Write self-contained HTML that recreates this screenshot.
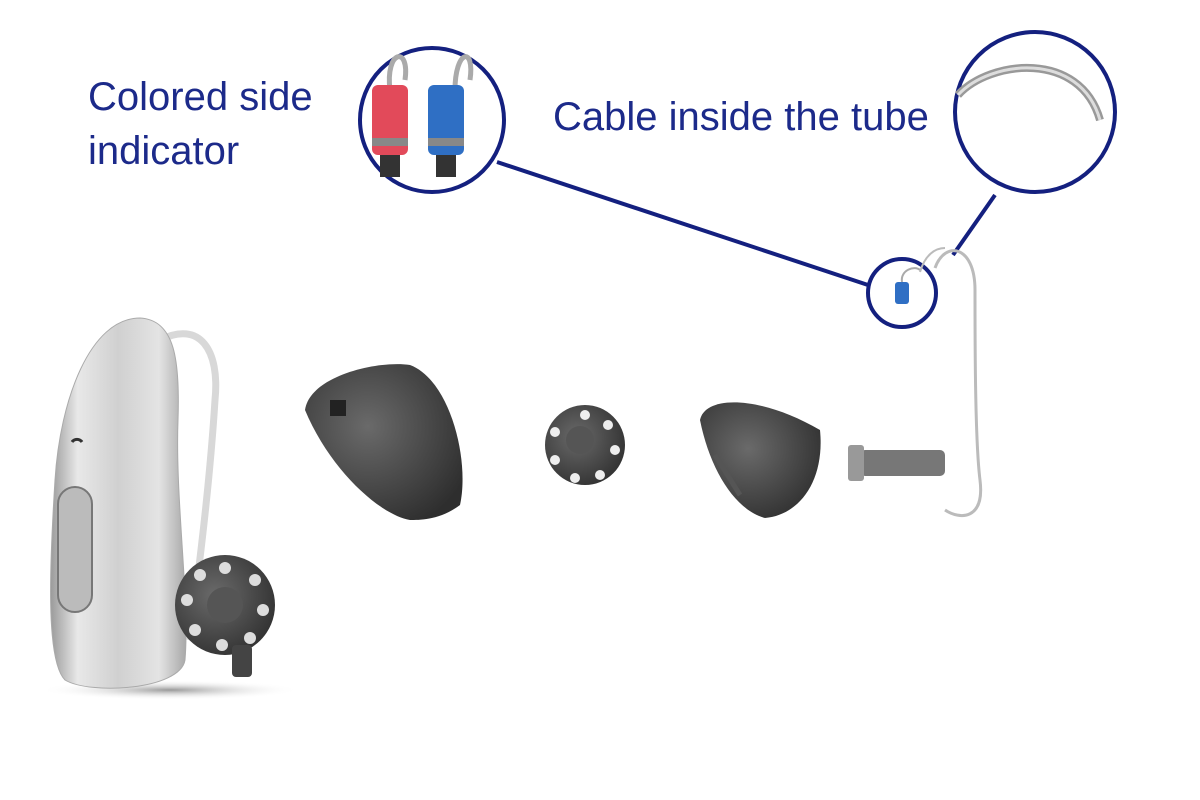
<!DOCTYPE html>
<html><head><meta charset="utf-8"><style>
html,body{margin:0;padding:0;background:#fff;width:1200px;height:800px;overflow:hidden}
svg{display:block}
</style></head><body>
<svg width="1200" height="800" viewBox="0 0 1200 800" xmlns="http://www.w3.org/2000/svg">
<defs>
<linearGradient id="silver" x1="0" x2="1" y1="0" y2="0">
<stop offset="0" stop-color="#9a9a9a"/><stop offset="0.2" stop-color="#e8e8e8"/><stop offset="0.5" stop-color="#d0d0d0"/><stop offset="0.8" stop-color="#e4e4e4"/><stop offset="1" stop-color="#a8a8a8"/>
</linearGradient>
<radialGradient id="dark" cx="0.4" cy="0.4" r="0.7">
<stop offset="0" stop-color="#6a6a6a"/><stop offset="1" stop-color="#2e2e2e"/>
</radialGradient>
<radialGradient id="shadow" cx="0.5" cy="0.5" r="0.5">
<stop offset="0" stop-color="#555" stop-opacity="0.6"/><stop offset="1" stop-color="#fff" stop-opacity="0"/>
</radialGradient>
</defs>
<g font-family="Liberation Sans, sans-serif" fill="#1c2a8a" font-size="40">
<text x="88" y="110">Colored side</text>
<text x="88" y="164">indicator</text>
<text x="553" y="130">Cable inside the tube</text>
</g>
<!-- connectors -->
<g stroke="#14207f" stroke-width="4" fill="none">
<line x1="497" y1="162" x2="868" y2="285"/>
<line x1="995" y1="195" x2="953" y2="255"/>
<circle cx="432" cy="120" r="72" fill="#fff"/>
<circle cx="1035" cy="112" r="80" fill="#fff"/>
<circle cx="902" cy="293" r="34" fill="#fff"/>
</g>
<!-- inset 1 contents -->
<path d="M390 90 C385 50 410 45 405 80" stroke="#aaa" stroke-width="5" fill="none"/>
<path d="M455 90 C455 50 475 45 470 80" stroke="#aaa" stroke-width="5" fill="none"/>
<rect x="372" y="85" width="36" height="70" rx="6" fill="#e24a5a"/>
<rect x="428" y="85" width="36" height="70" rx="6" fill="#2f6fc4"/>
<rect x="372" y="138" width="36" height="8" fill="#888"/>
<rect x="428" y="138" width="36" height="8" fill="#888"/>
<rect x="380" y="155" width="20" height="22" fill="#333"/>
<rect x="436" y="155" width="20" height="22" fill="#333"/>
<!-- inset 2 cable -->
<path d="M958 95 C990 60 1080 50 1100 120" stroke="#999" stroke-width="8" fill="none"/>
<path d="M958 95 C990 60 1080 50 1100 120" stroke="#ddd" stroke-width="3" fill="none"/>
<!-- small inset -->
<rect x="895" y="282" width="14" height="22" rx="3" fill="#2f6fc4"/>
<path d="M902 282 C900 270 915 265 920 270" stroke="#aaa" stroke-width="2" fill="none"/>
<!-- tube receiver -->
<path d="M935 268 C945 240 975 245 975 290 C975 340 975 440 980 480 C985 520 960 520 945 510" stroke="#bbb" stroke-width="3" fill="none"/>
<path d="M920 272 C925 255 935 248 945 248" stroke="#bbb" stroke-width="2" fill="none"/>
<rect x="860" y="450" width="85" height="26" rx="5" fill="#777"/>
<rect x="848" y="445" width="16" height="36" rx="3" fill="#999"/>
<!-- shadow -->
<ellipse cx="170" cy="690" rx="130" ry="10" fill="url(#shadow)"/>
<!-- earhook tube -->
<path d="M160 340 C200 320 220 350 215 400 C210 480 200 560 190 640" stroke="#d8d8d8" stroke-width="7" fill="none"/>
<!-- body -->
<path d="M140 318 C175 320 180 360 178 420 C175 500 190 600 185 660 C180 690 90 695 65 680 C45 660 50 560 55 480 C60 400 90 318 140 318 Z" fill="url(#silver)" stroke="#aaa" stroke-width="1"/>
<rect x="58" y="487" width="34" height="125" rx="17" fill="#bbb" stroke="#777" stroke-width="2"/>
<path d="M72 442 a6 6 0 0 1 10 0" stroke="#333" stroke-width="3" fill="none"/>
<!-- dome on aid -->
<circle cx="225" cy="605" r="50" fill="url(#dark)"/>
<g fill="#ddd"><circle cx="225" cy="568" r="6"/><circle cx="255" cy="580" r="6"/><circle cx="263" cy="610" r="6"/><circle cx="250" cy="638" r="6"/><circle cx="222" cy="645" r="6"/><circle cx="195" cy="630" r="6"/><circle cx="187" cy="600" r="6"/><circle cx="200" cy="575" r="6"/></g>
<circle cx="225" cy="605" r="18" fill="#555"/>
<rect x="232" y="645" width="20" height="32" rx="4" fill="#444"/>
<!-- big dome -->
<path d="M305 410 C310 375 380 360 410 365 C450 380 470 460 460 505 C440 520 420 520 410 520 C380 515 330 470 305 410 Z" fill="url(#dark)"/>
<rect x="330" y="400" width="16" height="16" fill="#222"/>
<!-- middle dome -->
<circle cx="585" cy="445" r="40" fill="url(#dark)"/>
<g fill="#eee"><circle cx="585" cy="415" r="5"/><circle cx="608" cy="425" r="5"/><circle cx="615" cy="450" r="5"/><circle cx="600" cy="475" r="5"/><circle cx="575" cy="478" r="5"/><circle cx="555" cy="460" r="5"/><circle cx="555" cy="432" r="5"/></g>
<circle cx="580" cy="440" r="14" fill="#555"/>
<!-- third dome -->
<path d="M700 420 C705 395 760 395 820 430 C825 480 800 515 765 518 C735 510 710 470 700 420 Z" fill="url(#dark)"/>
<path d="M715 455 L740 495" stroke="#555" stroke-width="5"/>
</svg>
</body></html>
